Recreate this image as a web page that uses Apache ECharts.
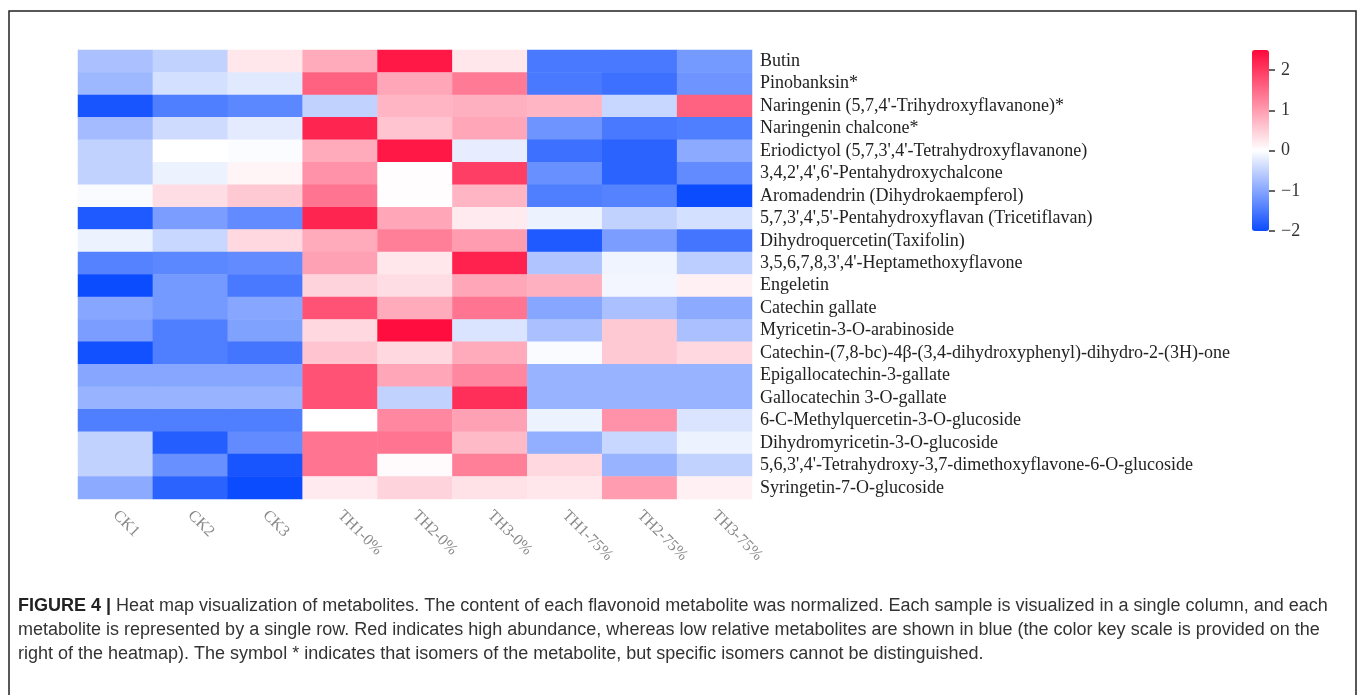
<!DOCTYPE html>
<html>
<head>
<meta charset="utf-8">
<script src="https://cdn.jsdelivr.net/npm/echarts@6/dist/echarts.min.js"></script>
<style>
html,body{margin:0;padding:0;background:#fff;}
#chart{width:1358px;height:695px;}
</style>
</head>
<body>
<div id="chart"></div>
<script>
// ---- Data ----
const samples = ['CK1','CK2','CK3','TH1-0%','TH2-0%','TH3-0%','TH1-75%','TH2-75%','TH3-75%'];
const metabolites = [
  'Butin',
  'Pinobanksin*',
  "Naringenin (5,7,4'-Trihydroxyflavanone)*",
  'Naringenin chalcone*',
  "Eriodictyol (5,7,3',4'-Tetrahydroxyflavanone)",
  "3,4,2',4',6'-Pentahydroxychalcone",
  'Aromadendrin (Dihydrokaempferol)',
  "5,7,3',4',5'-Pentahydroxyflavan (Tricetiflavan)",
  'Dihydroquercetin(Taxifolin)',
  "3,5,6,7,8,3',4'-Heptamethoxyflavone",
  'Engeletin',
  'Catechin gallate',
  'Myricetin-3-O-arabinoside',
  'Catechin-(7,8-bc)-4β-(3,4-dihydroxyphenyl)-dihydro-2-(3H)-one',
  'Epigallocatechin-3-gallate',
  'Gallocatechin 3-O-gallate',
  '6-C-Methylquercetin-3-O-glucoside',
  'Dihydromyricetin-3-O-glucoside',
  "5,6,3',4'-Tetrahydroxy-3,7-dimethoxyflavone-6-O-glucoside",
  'Syringetin-7-O-glucoside'
];
// one array per sample (column), values in metabolite order (top to bottom)
const CK1     = [-0.7, -0.8, -1.9, -0.75, -0.5, -0.5, -0.05, -1.85, -0.15, -1.4, -2.0, -1.0, -1.1, -1.95, -1.0, -0.85, -1.45, -0.5, -0.5, -0.95];
const CK2     = [-0.5, -0.35, -1.45, -0.4, 0.0, -0.15, 0.35, -1.1, -0.45, -1.35, -1.15, -1.15, -1.45, -1.45, -1.0, -0.85, -1.45, -1.8, -1.25, -1.75];
const CK3     = [0.25, -0.25, -1.35, -0.22, -0.03, 0.1, 0.55, -1.3, 0.4, -1.3, -1.5, -1.0, -1.05, -1.55, -1.0, -0.85, -1.45, -1.3, -1.9, -2.0];
const TH1_0   = [0.85, 1.6, -0.5, 2.2, 0.85, 1.1, 1.4, 2.2, 0.85, 0.95, 0.45, 1.75, 0.4, 0.6, 1.75, 1.75, 0.0, 1.4, 1.4, 0.2];
const TH2_0   = [2.35, 0.9, 0.75, 0.6, 2.35, 0.02, 0.02, 0.9, 1.3, 0.25, 0.35, 0.85, 2.45, 0.4, 0.9, -0.5, 1.2, 1.4, 0.05, 0.45];
const TH3_0   = [0.25, 1.35, 0.8, 0.9, -0.2, 1.95, 0.75, 0.2, 1.0, 2.25, 0.9, 1.4, -0.3, 0.85, 1.2, 2.1, 0.95, 0.7, 1.3, 0.3];
const TH1_75  = [-1.5, -1.5, 0.75, -1.2, -1.6, -1.25, -1.45, -0.15, -1.85, -0.65, 0.8, -1.0, -0.7, -0.05, -0.85, -0.85, -0.15, -0.9, 0.4, 0.25];
const TH2_75  = [-1.5, -1.6, -0.45, -1.5, -1.75, -1.75, -1.4, -0.5, -1.1, -0.12, -0.1, -0.7, 0.55, 0.55, -0.85, -0.85, 1.1, -0.45, -0.85, 1.0];
const TH3_75  = [-1.15, -1.2, 1.6, -1.45, -0.95, -1.3, -2.0, -0.35, -1.55, -0.55, 0.15, -0.95, -0.7, 0.4, -0.85, -0.85, -0.3, -0.15, -0.5, 0.15];
const columns = [CK1, CK2, CK3, TH1_0, TH2_0, TH3_0, TH1_75, TH2_75, TH3_75];
// colour key scale: levels along the bar (bottom to top), labelled at integers
const keyLevels = ['-2', '-1.5', '-1', '-0.5', '0', '0.5', '1', '1.5', '2', '2.5'];
const scaleMin = -2, scaleMax = 2.5;

// ---- Build heatmap data ----
const heat = [];
columns.forEach((col, xi) => col.forEach((v, yi) => heat.push([xi, yi, v])));

// colour stops at each key level (white at 0)
const blue = [12, 76, 255], red = [255, 8, 58], white = [255, 255, 255];
function mix(a, b, t) { return 'rgb(' + a.map((c, i) => Math.round(c + (b[i] - c) * t)).join(',') + ')'; }
const stops = keyLevels.map(Number).map(v => v < 0 ? mix(white, blue, -v / -scaleMin) : mix(white, red, v / scaleMax));
const isInt = (idx, val) => Number.isInteger(Number(val));

const serif = '"Liberation Serif", "Times New Roman", serif';
const sans = '"Liberation Sans", Arial, sans-serif';
const chart = echarts.init(document.getElementById('chart'), null, {renderer: 'canvas'});
chart.setOption({
  backgroundColor: '#fff',
  animation: false,
  grid: [
    {left: 78, top: 50, width: 674, height: 449},
    {left: 1252, top: 50, width: 17, height: 181}
  ],
  xAxis: [
    {
      type: 'category', data: samples, gridIndex: 0, position: 'bottom',
      axisLine: {show: false}, axisTick: {show: false}, splitLine: {show: false},
      axisLabel: {rotate: -45, margin: 14, color: '#8a8a8a', fontSize: 16, fontFamily: serif, interval: 0}
    },
    {type: 'category', data: [''], gridIndex: 1, show: false, axisLine: {onZero: false}}
  ],
  yAxis: [
    {
      type: 'category', data: metabolites, gridIndex: 0, inverse: true, position: 'right',
      axisLine: {show: false}, axisTick: {show: false}, splitLine: {show: false},
      axisLabel: {margin: 8, color: '#222', fontSize: 18, fontFamily: serif, interval: 0}
    },
    {
      type: 'category', data: keyLevels, gridIndex: 1, boundaryGap: false, position: 'right',
      axisLine: {show: false, onZero: false}, splitLine: {show: false}, z: 10,
      axisTick: {show: true, length: 6, interval: isInt, lineStyle: {color: '#333', width: 1.5}},
      axisLabel: {interval: isInt, margin: 12, color: '#333', fontSize: 18, fontFamily: serif,
        formatter: v => String(v).replace('-', '\u2212')}
    }
  ],
  visualMap: {
    type: 'continuous', min: scaleMin, max: scaleMax, seriesIndex: 0,
    calculable: false, orient: 'vertical', left: 1252, top: 50,
    itemWidth: 17, itemHeight: 181, padding: 0, text: null, showLabel: false,
    inRange: {color: stops}
  },
  series: [{
    type: 'heatmap', xAxisIndex: 0, yAxisIndex: 0, data: heat,
    itemStyle: {borderWidth: 0}, emphasis: {disabled: true}
  }],
  graphic: [
    {type: 'rect', left: 6.5, top: 8.5, shape: {width: 1347, height: 720},
     style: {fill: 'none', stroke: '#222', lineWidth: 1.5}, silent: true},
    {type: 'text', left: 18, top: 597, style: {
      text: '{b|FIGURE 4 |} Heat map visualization of metabolites. The content of each flavonoid metabolite was normalized. Each sample is visualized in a single column, and each',
      font: '18px ' + sans, fill: '#333',
      rich: {b: {fontWeight: 'bold', fontSize: 18, fontFamily: sans, fill: '#222'}}}},
    {type: 'text', left: 18, top: 621, style: {
      text: 'metabolite is represented by a single row. Red indicates high abundance, whereas low relative metabolites are shown in blue (the color key scale is provided on the',
      font: '18px ' + sans, fill: '#333'}},
    {type: 'text', left: 18, top: 645, style: {
      text: 'right of the heatmap). The symbol * indicates that isomers of the metabolite, but specific isomers cannot be distinguished.',
      font: '18px ' + sans, fill: '#333'}}
  ]
});
</script>
</body>
</html>
